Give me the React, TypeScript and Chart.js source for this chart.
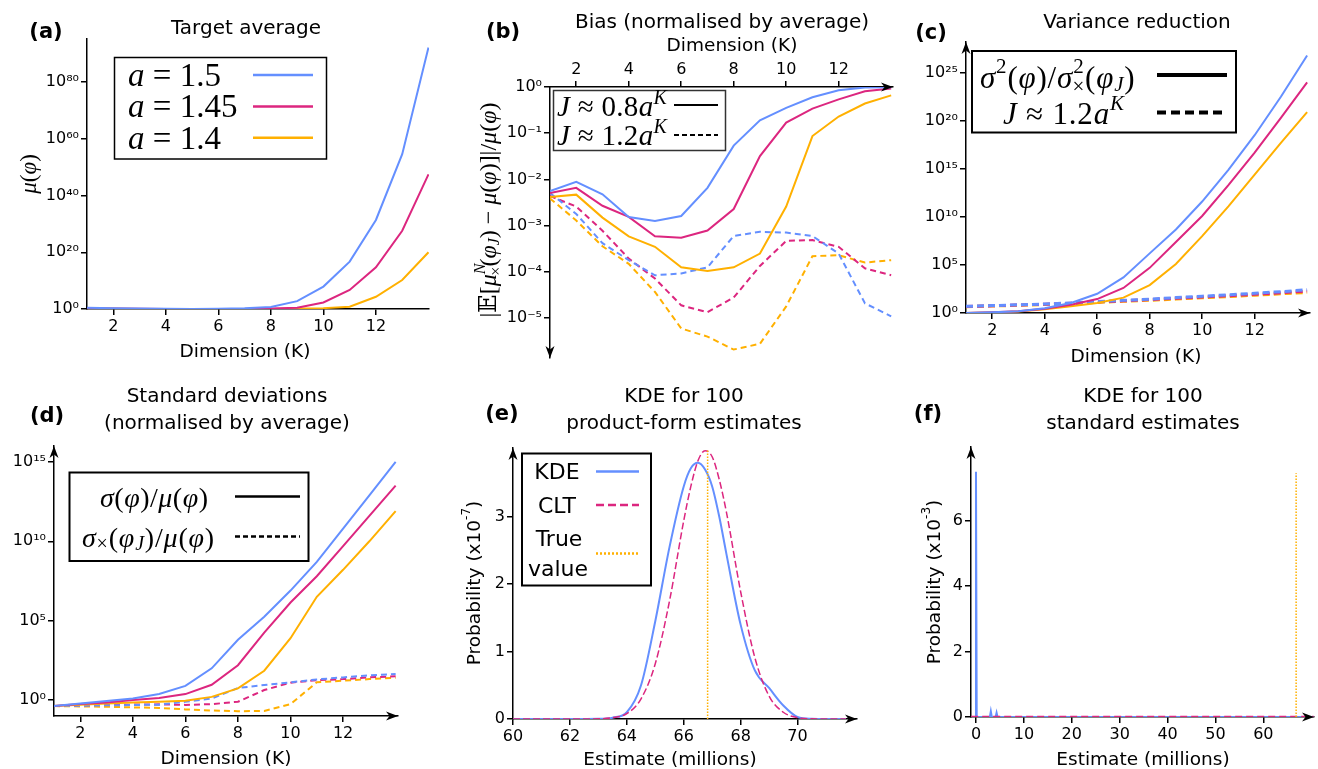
import React, { useEffect, useRef } from "react";
import { Chart, registerables } from "chart.js";
Chart.register(...registerables);

const BLUE = "#648FFF";
const PINK = "#DC267F";
const ORANGE = "#FFB000";
const SANS = "'DejaVu Sans', sans-serif";
const MATH = "'Liberation Serif', 'DejaVu Serif', serif";
Chart.defaults.font.family = SANS;

// ---------- shared ----------
const dims = [1, 2, 3, 4, 5, 6, 7, 8, 9, 10, 11, 12, 13, 14];
const dimTicks = [2, 4, 6, 8, 10, 12];
const aValues = ["1.5", "1.45", "1.4"];

// ---------- (a) target average ----------
const muA150 = [2.5, 2, 1.6, 1.3, 1.1, 1.3, 1.8, 5, 6e2, 8e7, 5e16, 2.5e31, 4e54, 1.6e92];
const muA145 = [2, 1.6, 1.3, 1.1, 1, 1, 1.1, 1.4, 3, 2e2, 5e6, 5e14, 4e27, 3e47];
const muA140 = [1.6, 1.3, 1.1, 1, 1, 1, 1, 1.1, 1.4, 2, 6, 2e4, 1.6e10, 1e20];
const targetTicks = [1, 1e20, 1e40, 1e60, 1e80];

// ---------- (b) bias ----------
const biasSolid150 = [5.6e-3, 8.9e-3, 4.8e-3, 1.55e-3, 1.26e-3, 1.62e-3, 6.6e-3, 5.4e-2, 0.19, 0.355, 0.6, 0.85, 0.98, 0.99];
const biasSolid145 = [5.1e-3, 6.6e-3, 2.7e-3, 1.55e-3, 5.9e-4, 5.5e-4, 7.9e-4, 2.3e-3, 3.2e-2, 0.17, 0.34, 0.54, 0.81, 0.93];
const biasSolid140 = [4.2e-3, 4.7e-3, 1.5e-3, 5.9e-4, 3.5e-4, 1.26e-4, 1.05e-4, 1.26e-4, 2.5e-4, 2.6e-3, 8.7e-2, 0.23, 0.44, 0.66];
const biasDash150 = [5.1e-3, 1.8e-3, 4.2e-4, 1.8e-4, 8.5e-5, 9.3e-5, 1.26e-4, 6.0e-4, 7.4e-4, 7.1e-4, 6.0e-4, 2.5e-4, 2.1e-5, 1.1e-5];
const biasDash145 = [4.4e-3, 2.6e-3, 7.8e-4, 1.95e-4, 7.2e-5, 1.9e-5, 1.35e-5, 2.8e-5, 1.35e-4, 4.7e-4, 4.9e-4, 3.5e-4, 1.2e-4, 8.5e-5];
const biasDash140 = [3.9e-3, 1.3e-3, 3.6e-4, 1.5e-4, 3.7e-5, 6.0e-6, 4.0e-6, 2.1e-6, 2.8e-6, 1.8e-5, 2.2e-4, 2.3e-4, 1.6e-4, 1.8e-4];
const biasTicks = [1, 1e-1, 1e-2, 1e-3, 1e-4, 1e-5];

// ---------- (c) variance reduction ----------
const varSolid150 = [1, 1.17, 1.5, 3.2, 11, 100, 5e3, 1.6e6, 5e8, 4e11, 8e14, 3.2e18, 3.2e22, 6.3e26];
const varSolid145 = [1, 1.2, 1.5, 2.8, 7.4, 28, 4e2, 5e4, 2.5e7, 1.26e10, 2e13, 5e16, 2e20, 1e24];
const varSolid140 = [1, 1.15, 1.4, 2.4, 4.9, 11, 40, 8e2, 1.26e5, 1e8, 1.26e11, 2.5e14, 5e17, 8e20];
const varDash150 = [4.9, 5.9, 7.1, 8.5, 11.2, 15.8, 21, 28, 40, 56, 79, 112, 166, 263];
const varDash145 = [4.8, 5.6, 6.8, 8.1, 10.5, 14.1, 18.6, 25, 34, 47, 63, 89, 126, 190];
const varDash140 = [4.6, 5.4, 6.3, 7.6, 9.5, 12.6, 16.6, 21, 28, 38, 51, 71, 100, 138];
const varTicks = [1, 1e5, 1e10, 1e15, 1e20, 1e25];

// ---------- (d) standard deviations ----------
const sdSolid150 = [0.42, 0.62, 0.87, 1.26, 2.4, 7.9, 100, 6.3e3, 1.8e5, 7.9e6, 5e8, 6.3e10, 7.9e12, 1e15];
const sdSolid145 = [0.42, 0.56, 0.71, 1, 1.35, 2.4, 9.3, 158, 1.8e4, 1.4e6, 6.3e7, 5e9, 4e11, 3.2e13];
const sdSolid140 = [0.42, 0.51, 0.62, 0.71, 0.79, 0.91, 1.6, 5.5, 71, 7.9e3, 3.2e6, 1.6e8, 1e10, 7.9e11];
const sdDash150 = [0.42, 0.44, 0.47, 0.49, 0.52, 0.79, 1.26, 5.8, 8.9, 13.2, 20, 27, 36, 44];
const sdDash145 = [0.42, 0.47, 0.5, 0.52, 0.54, 0.5, 0.56, 0.79, 4.3, 12.6, 18, 21, 27, 32];
const sdDash140 = [0.42, 0.4, 0.38, 0.35, 0.32, 0.26, 0.22, 0.2, 0.21, 0.56, 13.2, 16.6, 21, 26];
const sdTicks = [1, 1e5, 1e10, 1e15];

// ---------- (e) KDE product-form (x: millions, y: x1e-7) ----------
const eEstimate = [60, 61, 62, 63, 63.5, 64, 64.5, 65, 65.5, 66, 66.25, 66.5, 66.75, 67, 67.25, 67.5, 68, 68.5, 69, 69.5, 70, 70.5, 71, 71.7];
const eKde = [0, 0, 0, 0.003, 0.02, 0.1, 0.5, 1.45, 2.55, 3.45, 3.72, 3.8, 3.7, 3.45, 3.0, 2.45, 1.4, 0.72, 0.46, 0.2, 0.03, 0.003, 0, 0];
const eClt = [0, 0, 0, 0.003, 0.02, 0.08, 0.3, 0.82, 1.75, 2.94, 3.45, 3.83, 3.98, 3.89, 3.55, 3.07, 1.89, 0.91, 0.34, 0.1, 0.02, 0.003, 0, 0];
const trueValue = 66.84;
const eTrueTop = 3.99;
const eXTicks = [60, 62, 64, 66, 68, 70];
const eYTicks = [0, 1, 2, 3];

// ---------- (f) KDE standard (x: millions, y: x1e-3) ----------
const fEstimate = [-1, -0.15, 0, 0.15, 2.9, 3.1, 3.3, 4.1, 4.3, 4.5, 70.5];
const fKde = [0, 0, 7.5, 0, 0, 0.17, 0, 0, 0.13, 0, 0];
const fCltEstimate = [-1, 70.5];
const fClt = [0.004, 0.004];
const fTrueTop = 7.46;
const fXTicks = [0, 10, 20, 30, 40, 50, 60];
const fYTicks = [0, 2, 4, 6];

// ---------- helpers ----------
const SUP: Record<string, string> = { "0": "⁰", "1": "¹", "2": "²", "3": "³", "4": "⁴", "5": "⁵", "6": "⁶", "7": "⁷", "8": "⁸", "9": "⁹", "-": "⁻" };
const pow10 = (v: number) => "10" + String(Math.round(Math.log10(v))).split("").map((c) => SUP[c]).join("");

const TICK_FONT = { family: SANS, size: 16 };

function axis(type: string, position: string, min: number, max: number, ticks: number[], cb?: (v: number) => string) {
  return {
    type,
    position,
    min,
    max,
    afterBuildTicks: (s: any) => {
      s.ticks = ticks.map((v) => ({ value: v }));
    },
    grid: { display: true, drawOnChartArea: false, drawTicks: true, tickLength: 6, color: "#000", tickColor: "#000", tickWidth: 1.5, lineWidth: 1.5 },
    border: { display: true, color: "#000", width: 1.5 },
    ticks: { color: "#000", font: TICK_FONT, padding: 2, autoSkip: false, maxRotation: 0, minRotation: 0, callback: cb ?? ((v: any) => String(v)) },
  };
}

function series(xs: number[], ys: number[], color: string, width: number, dash: number[] = [], extra: any = {}) {
  return {
    data: xs.map((x, i) => ({ x, y: ys[i] })),
    borderColor: color,
    backgroundColor: color,
    borderWidth: width,
    borderDash: dash,
    pointRadius: 0,
    fill: false,
    tension: 0,
    ...extra,
  };
}

function arrows(list: string[], xTop = false) {
  return {
    id: "arrows",
    afterDraw(chart: any) {
      const { ctx, chartArea: a } = chart;
      const draw = (tx: number, ty: number, dx: number, dy: number) => {
        const L = 12, W = 4.5, N = 8.5;
        const px = -dy, py = dx;
        ctx.beginPath();
        ctx.moveTo(tx, ty);
        ctx.lineTo(tx - dx * L + px * W, ty - dy * L + py * W);
        ctx.lineTo(tx - dx * N, ty - dy * N);
        ctx.lineTo(tx - dx * L - px * W, ty - dy * L - py * W);
        ctx.closePath();
        ctx.fill();
      };
      ctx.save();
      ctx.fillStyle = "#000";
      for (const k of list) {
        if (k === "xr") draw(a.right, xTop ? a.top : a.bottom, 1, 0);
        if (k === "yu") draw(a.left, a.top, 0, -1);
        if (k === "yd") draw(a.left, a.bottom, 0, 1);
      }
      ctx.restore();
    },
  };
}

type Area = { l: number; t: number; r: number; b: number };

function ChartPanel({ area, xTop = false, make }: { area: Area; xTop?: boolean; make: () => any }) {
  const ref = useRef<HTMLCanvasElement>(null);
  const YW = 72, XH = 40, PAD = 12;
  const left = area.l - YW;
  const top = xTop ? area.t - XH : area.t - PAD;
  const w = area.r - area.l + YW + PAD;
  const h = area.b - area.t + XH + PAD;
  useEffect(() => {
    const cfg = make();
    cfg.options.responsive = false;
    cfg.options.maintainAspectRatio = false;
    cfg.options.animation = false;
    cfg.options.layout = { padding: { left: 0, right: PAD, top: xTop ? 0 : PAD, bottom: xTop ? PAD : 0 } };
    cfg.options.plugins = { legend: { display: false }, tooltip: { enabled: false }, title: { display: false } };
    cfg.options.scales.x.afterFit = (s: any) => {
      s.height = XH;
    };
    cfg.options.scales.y.afterFit = (s: any) => {
      s.width = YW;
    };
    const chart = new Chart(ref.current as HTMLCanvasElement, cfg);
    return () => chart.destroy();
  }, []);
  return <canvas ref={ref} width={w} height={h} style={{ position: "absolute", left, top, width: w, height: h }} />;
}

// ---------- chart configs ----------
const makeA = () => ({
  type: "line",
  data: {
    datasets: [
      series(dims, muA150, BLUE, 2),
      series(dims, muA145, PINK, 2),
      series(dims, muA140, ORANGE, 2),
    ],
  },
  options: {
    scales: {
      x: axis("linear", "bottom", 1, 14.02, dimTicks),
      y: axis("logarithmic", "left", 1, 1.6e95, targetTicks, pow10),
    },
  },
});

const makeB = () => ({
  type: "line",
  data: {
    datasets: [
      series(dims, biasSolid150, BLUE, 2),
      series(dims, biasSolid145, PINK, 2),
      series(dims, biasSolid140, ORANGE, 2),
      series(dims, biasDash150, BLUE, 2, [6, 4]),
      series(dims, biasDash145, PINK, 2, [6, 4]),
      series(dims, biasDash140, ORANGE, 2, [6, 4]),
    ],
  },
  options: {
    scales: {
      x: axis("linear", "top", 1, 14.07, dimTicks),
      y: axis("logarithmic", "left", 1.38e-6, 1, biasTicks, pow10),
    },
  },
  plugins: [arrows(["xr", "yd"], true)],
});

const makeC = () => ({
  type: "line",
  data: {
    datasets: [
      series(dims, varSolid150, BLUE, 2),
      series(dims, varSolid145, PINK, 2),
      series(dims, varSolid140, ORANGE, 2),
      series(dims, varDash150, BLUE, 3, [7, 4]),
      series(dims, varDash145, PINK, 3, [7, 4]),
      series(dims, varDash140, ORANGE, 3, [7, 4]),
    ],
  },
  options: {
    scales: {
      x: axis("linear", "bottom", 1, 14.11, dimTicks),
      y: axis("logarithmic", "left", 1, 1.6e28, varTicks, pow10),
    },
  },
  plugins: [arrows(["xr", "yu"])],
});

const makeD = () => ({
  type: "line",
  data: {
    datasets: [
      series(dims, sdSolid150, BLUE, 2),
      series(dims, sdSolid145, PINK, 2),
      series(dims, sdSolid140, ORANGE, 2),
      series(dims, sdDash150, BLUE, 2, [6, 4]),
      series(dims, sdDash145, PINK, 2, [6, 4]),
      series(dims, sdDash140, ORANGE, 2, [6, 4]),
    ],
  },
  options: {
    scales: {
      x: axis("linear", "bottom", 1, 14.09, dimTicks),
      y: axis("logarithmic", "left", 0.1, 1e16, sdTicks, pow10),
    },
  },
  plugins: [arrows(["xr", "yu"])],
});

const makeE = () => ({
  type: "line",
  data: {
    datasets: [
      series([trueValue, trueValue], [0, eTrueTop], ORANGE, 1.5, [1.5, 1.5]),
      series(eEstimate, eClt, PINK, 1.5, [7, 3], { cubicInterpolationMode: "monotone" }),
      series(eEstimate, eKde, BLUE, 2, [], { cubicInterpolationMode: "monotone" }),
    ],
  },
  options: {
    scales: {
      x: axis("linear", "bottom", 60, 72.09, eXTicks),
      y: axis("linear", "left", 0, 4.02, eYTicks),
    },
  },
  plugins: [arrows(["xr", "yu"])],
});

const makeF = () => ({
  type: "line",
  data: {
    datasets: [
      series([trueValue, trueValue], [0, fTrueTop], ORANGE, 1.5, [1.5, 1.5]),
      series(fCltEstimate, fClt, PINK, 2, [7, 4]),
      series(fEstimate, fKde, BLUE, 2),
    ],
  },
  options: {
    scales: {
      x: axis("linear", "bottom", -1.04, 70.57, fXTicks),
      y: axis("linear", "left", 0, 8.26, fYTicks),
    },
  },
  plugins: [arrows(["xr", "yu"])],
});

// ---------- text overlay helpers ----------
const I = ({ children, ...rest }: any) => (
  <tspan fontStyle="italic" {...rest}>
    {children}
  </tspan>
);

const T = ({ x, y, size = 18, children, anchor = "middle", weight = "normal", family = SANS, rotate = 0, spacing }: any) => (
  <text
    x={rotate ? 0 : x}
    y={rotate ? 0 : y}
    transform={rotate ? `translate(${x},${y}) rotate(${rotate})` : undefined}
    fontSize={size}
    fontFamily={family}
    fontWeight={weight}
    textAnchor={anchor}
    dominantBaseline="central"
    letterSpacing={spacing}
    fill="#000"
  >
    {children}
  </text>
);

const Seg = ({ x1, x2, y, color, width = 2, dash }: any) => (
  <line x1={x1} x2={x2} y1={y} y2={y} stroke={color} strokeWidth={width} strokeDasharray={dash} />
);

const Box = ({ x, y, w, h, sw = 1.5, stroke = "#000" }: any) => (
  <rect x={x} y={y} width={w} height={h} fill="#fff" stroke={stroke} strokeWidth={sw} />
);

export default function App() {
  const seriesColors = [BLUE, PINK, ORANGE];
  return (
    <div style={{ position: "absolute", left: 0, top: 0, width: 1318, height: 769, overflow: "hidden", background: "#fff" }}>
      <ChartPanel area={{ l: 87, t: 39, r: 429, b: 309 }} make={makeA} />
      <ChartPanel area={{ l: 550, t: 87, r: 893, b: 358 }} xTop make={makeB} />
      <ChartPanel area={{ l: 966, t: 42, r: 1310, b: 313 }} make={makeC} />
      <ChartPanel area={{ l: 54, t: 446, r: 398, b: 716 }} make={makeD} />
      <ChartPanel area={{ l: 513, t: 448, r: 857, b: 719 }} make={makeE} />
      <ChartPanel area={{ l: 971, t: 447, r: 1314, b: 717 }} make={makeF} />

      <svg width={1318} height={769} style={{ position: "absolute", left: 0, top: 0 }}>
        {/* panel letters */}
        <T x={46} y={31} size={21} weight="bold">(a)</T>
        <T x={503} y={31} size={21} weight="bold">(b)</T>
        <T x={931} y={32} size={21} weight="bold">(c)</T>
        <T x={47} y={415} size={21} weight="bold">(d)</T>
        <T x={502} y={413} size={21} weight="bold">(e)</T>
        <T x={928} y={413} size={21} weight="bold">(f)</T>

        {/* titles */}
        <T x={246} y={27} size={20}>Target average</T>
        <T x={722} y={21} size={20}>Bias (normalised by average)</T>
        <T x={1137} y={21} size={20}>Variance reduction</T>
        <T x={227} y={395} size={20}>Standard deviations</T>
        <T x={227} y={422} size={20}>(normalised by average)</T>
        <T x={684} y={395} size={20}>KDE for 100</T>
        <T x={684} y={422} size={20}>product-form estimates</T>
        <T x={1143} y={395} size={20}>KDE for 100</T>
        <T x={1143} y={422} size={20}>standard estimates</T>

        {/* axis titles */}
        <T x={245} y={350} size={18.5}>Dimension (K)</T>
        <T x={732} y={44} size={18.5}>Dimension (K)</T>
        <T x={1136} y={355} size={18.5}>Dimension (K)</T>
        <T x={226} y={757} size={18.5}>Dimension (K)</T>
        <T x={670} y={758} size={18.5}>Estimate (millions)</T>
        <T x={1143} y={758} size={18.5}>Estimate (millions)</T>

        <T x={28} y={174} size={23} family={MATH} rotate={-90}>
          <I>μ</I>(<I>φ</I>)
        </T>
        <T x={488} y={210} size={24} family={MATH} rotate={-90}>
          |𝔼[<I>μ</I>
          <I fontSize={16} dy={-9}>N</I>
          <tspan fontSize={16} dx={-12} dy={16}>×</tspan>
          <tspan dy={-7}>(</tspan>
          <I>φ</I>
          <I fontSize={16} dy={5}>J</I>
          <tspan dy={-5}>) − </tspan>
          <I>μ</I>(<I>φ</I>)]|/<I>μ</I>(<I>φ</I>)
        </T>
        <T x={473} y={583} size={18.5} rotate={-90}>
          Probability (x10<tspan fontSize={12} dy={-7}>-7</tspan>
          <tspan dy={7}>)</tspan>
        </T>
        <T x={933} y={582} size={18.5} rotate={-90}>
          Probability (x10<tspan fontSize={12} dy={-7}>-3</tspan>
          <tspan dy={7}>)</tspan>
        </T>

        {/* legend (a) */}
        <Box x={114.5} y={57.5} w={212} h={101.5} sw={1.5} />
        {aValues.map((v, i) => (
          <g key={v}>
            <T x={128} y={75 + i * 31.4} size={33} family={MATH} anchor="start">
              <I>a</I> = {v}
            </T>
            <Seg x1={253} x2={313} y={75 + i * 31.4} color={seriesColors[i]} width={2.5} />
          </g>
        ))}

        {/* legend (b) */}
        <Box x={553.5} y={90.5} w={172} h={60} sw={1.5} stroke="#333" />
        <T x={557} y={106} size={29} family={MATH} anchor="start" spacing={0.3}>
          <I>J</I> ≈ 0.8<I>a</I>
          <I fontSize={20} dy={-9}>K</I>
        </T>
        <T x={557} y={135} size={29} family={MATH} anchor="start" spacing={0.3}>
          <I>J</I> ≈ 1.2<I>a</I>
          <I fontSize={20} dy={-9}>K</I>
        </T>
        <Seg x1={674} x2={718} y={105} color="#000" width={2} />
        <Seg x1={674} x2={718} y={135} color="#000" width={2} dash="5 3" />

        {/* legend (c) */}
        <Box x={972} y={51} w={264} h={81.5} sw={2} />
        <T x={980} y={77} size={31} family={MATH} anchor="start" spacing={0.8}>
          <I>σ</I>
          <tspan fontSize={21} dy={-11}>2</tspan>
          <tspan dy={11}>(</tspan>
          <I>φ</I>)/<I>σ</I>
          <tspan fontSize={21} dy={-11}>2</tspan>
          <tspan fontSize={21} dx={-12} dy={20}>×</tspan>
          <tspan dy={-9}>(</tspan>
          <I>φ</I>
          <I fontSize={21} dy={7}>J</I>
          <tspan dy={-7}>)</tspan>
        </T>
        <T x={1003} y={113} size={31} family={MATH} anchor="start" spacing={0.8}>
          <I>J</I> ≈ 1.2<I>a</I>
          <I fontSize={21} dy={-10}>K</I>
        </T>
        <Seg x1={1157} x2={1227} y={75} color="#000" width={4} />
        <Seg x1={1157} x2={1227} y={112.5} color="#000" width={4} dash="9 5" />

        {/* legend (d) */}
        <Box x={69.5} y={472.5} w={239} h={88.5} sw={2} />
        <T x={100} y={497} size={28} family={MATH} anchor="start" spacing={0.5}>
          <I>σ</I>(<I>φ</I>)/<I>μ</I>(<I>φ</I>)
        </T>
        <T x={82} y={537} size={28} family={MATH} anchor="start" spacing={0.8}>
          <I>σ</I>
          <tspan fontSize={20} dy={6}>×</tspan>
          <tspan dy={-6}>(</tspan>
          <I>φ</I>
          <I fontSize={20} dy={6}>J</I>
          <tspan dy={-6}>)/</tspan>
          <I>μ</I>(<I>φ</I>)
        </T>
        <Seg x1={235} x2={300} y={496.5} color="#000" width={2.5} />
        <Seg x1={235} x2={300} y={536.5} color="#000" width={2.5} dash="5 3" />

        {/* legend (e) */}
        <Box x={522} y={453.5} w={129} h={132} sw={2} />
        <T x={557} y={471.5} size={22}>KDE</T>
        <T x={557} y={505} size={22}>CLT</T>
        <T x={559} y={538.5} size={22}>True</T>
        <T x={558} y={568.5} size={22}>value</T>
        <Seg x1={596} x2={639} y={471.5} color={BLUE} width={2.5} />
        <Seg x1={596} x2={639} y={505} color={PINK} width={2.5} dash="8 4" />
        <Seg x1={596} x2={639} y={553.5} color={ORANGE} width={2.5} dash="2 2" />
      </svg>
    </div>
  );
}
